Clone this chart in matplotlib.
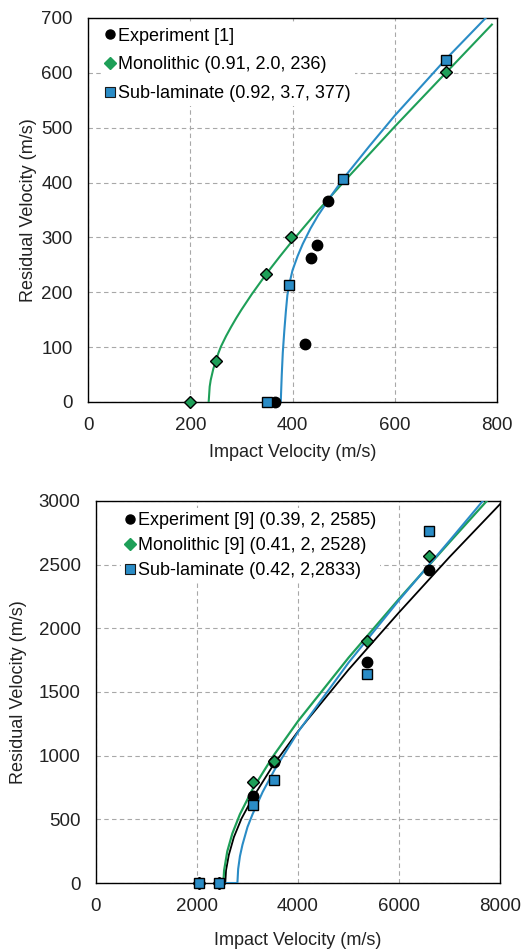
import matplotlib
matplotlib.use('Agg')
import matplotlib.pyplot as plt

plt.rcParams.update({'font.family': ['Liberation Sans', 'DejaVu Sans'], 'font.size': 12})

#top panel: measured points
exp1_vi = [365, 424, 437, 447, 469]
exp1_vr = [0, 105, 262, 287, 366]
mono1_vi = [200, 250, 349, 398, 700]
mono1_vr = [0, 75, 233, 300, 601]
sub1_vi = [350, 393, 498, 700]
sub1_vr = [0, 214, 407, 624]

#top panel: fitted curves
mono1_fit_vi = [236, 238, 240, 245, 250, 255, 260, 270, 280, 290, 300, 320, 350, 375, 400, 450, 500, 600, 700, 790]
mono1_fit_vr = [0, 28, 40, 60, 75, 89, 101, 120, 137, 153, 168, 196, 235, 265, 294, 349, 401, 502, 600, 688]
sub1_fit_vi = [377, 379, 381, 384, 387, 390, 395, 400, 410, 420, 435, 450, 475, 500, 550, 600, 700, 780]
sub1_fit_vr = [0, 50, 90, 130, 165, 195, 220, 240, 266, 288, 316, 340, 375, 408, 466, 522, 625, 702]

#bottom panel: measured points
exp9_vi = [2030, 2430, 3100, 3529, 5363, 6596]
exp9_vr = [0, 0, 680, 950, 1732, 2459]
mono9_vi = [2030, 2430, 3100, 3529, 5363, 6596]
mono9_vr = [0, 0, 790, 955, 1899, 2569]
sub9_vi = [2030, 2430, 3100, 3529, 5363, 6596]
sub9_vr = [0, 0, 609, 811, 1643, 2765]

#bottom panel: fitted curves
exp9_fit_vi = [2450, 2560, 2575, 2630, 2730, 2880, 3100, 3500, 4000, 5000, 6000, 7000, 8000]
exp9_fit_vr = [0, 0, 100, 220, 360, 505, 667, 920, 1191, 1675, 2125, 2560, 2975]
mono9_fit_vi = [2450, 2522, 2537, 2600, 2700, 2850, 3100, 3500, 4000, 5000, 6000, 7000, 7760]
mono9_fit_vr = [0, 0, 100, 249, 389, 540, 736, 992, 1271, 1769, 2231, 2676, 3010]
sub9_fit_vi = [2450, 2800, 2815, 2850, 2900, 3000, 3100, 3300, 3529, 4000, 5000, 6000, 7000, 7680]
sub9_fit_vr = [0, 0, 110, 210, 300, 440, 540, 715, 884, 1186, 1730, 2221, 2688, 3010]

labels_top = ['Experiment [1]', 'Monolithic (0.91, 2.0, 236)', 'Sub-laminate (0.92, 3.7, 377)']
labels_bottom = ['Experiment [9] (0.39, 2, 2585)', 'Monolithic [9] (0.41, 2, 2528)',
                 'Sub-laminate (0.42, 2,2833)']

GREEN = '#1e9f58'
BLUE = '#2a8cc6'


def style_axes(ax, xmax, xstep, ymax, ystep):
    ax.set_xlim(0, xmax)
    ax.set_ylim(0, ymax)
    ax.set_xticks(range(0, xmax + 1, xstep))
    ax.set_yticks(range(0, ymax + 1, ystep))
    ax.tick_params(length=0, pad=11, labelsize=13.5, colors='#222222')
    ax.grid(True, color='#a8a8a8', linestyle=(0, (4, 3)), linewidth=0.8)
    ax.set_axisbelow(True)
    for s in ax.spines.values():
        s.set_color('black')
        s.set_linewidth(1.0)
    ax.set_ylabel('Residual Velocity (m/s)', fontsize=13, color='#222222')


def draw_points(ax, circ, diam, squ, labels):
    ax.plot(*circ, linestyle='', marker='o', ms=7.5, color='black', zorder=4,
            clip_on=False, label=labels[0])
    ax.plot(*diam, linestyle='', marker='D', ms=6.5, mfc=GREEN, mec='black', mew=1.0,
            zorder=5, clip_on=False, label=labels[1])
    ax.plot(*squ, linestyle='', marker='s', ms=7.3, mfc=BLUE, mec='black', mew=1.0,
            zorder=6, clip_on=False, label=labels[2])


def add_legend(ax, spacing, anchor):
    handles = [
        plt.Line2D([], [], linestyle='', marker='o', ms=6.5, color='black'),
        plt.Line2D([], [], linestyle='', marker='D', ms=6, mfc=GREEN, mec=GREEN),
        plt.Line2D([], [], linestyle='', marker='s', ms=7, mfc=BLUE, mec='#1a1a1a', mew=0.8),
    ]
    labels = [h.get_label() for h in ax.get_lines() if not h.get_label().startswith('_')]
    leg = ax.legend(handles, labels, loc='upper left', bbox_to_anchor=anchor,
                    fontsize=13, handlelength=0.6, handletextpad=0.15,
                    labelspacing=spacing, borderpad=0.2, frameon=True,
                    fancybox=False, framealpha=1)
    leg.get_frame().set_edgecolor('none')
    leg.set_zorder(10)


def main():
    fig = plt.figure(figsize=(5.22, 9.51), dpi=100)

    #top panel
    ax1 = fig.add_axes([0.1686, 0.5773, 0.7835, 0.4038])
    ax1.plot(mono1_fit_vi, mono1_fit_vr, color=GREEN, linewidth=1.5, zorder=3)
    ax1.plot(sub1_fit_vi, sub1_fit_vr, color=BLUE, linewidth=1.5, zorder=3)
    draw_points(ax1, (exp1_vi, exp1_vr), (mono1_vi, mono1_vr), (sub1_vi, sub1_vr), labels_top)
    style_axes(ax1, 800, 200, 700, 100)
    ax1.set_xlabel('Impact Velocity (m/s)', fontsize=13, color='#222222', labelpad=7)
    ax1.yaxis.set_label_coords(-0.125, 0.5)
    add_legend(ax1, 0.66, (0.01, 1.008))

    #bottom panel
    ax2 = fig.add_axes([0.1839, 0.0715, 0.774, 0.4017])
    ax2.plot(exp9_fit_vi, exp9_fit_vr, color='black', linewidth=1.3, zorder=3)
    ax2.plot(mono9_fit_vi, mono9_fit_vr, color=GREEN, linewidth=1.6, zorder=3)
    ax2.plot(sub9_fit_vi, sub9_fit_vr, color=BLUE, linewidth=1.5, zorder=3)
    draw_points(ax2, (exp9_vi, exp9_vr), (mono9_vi, mono9_vr), (sub9_vi, sub9_vr), labels_bottom)
    style_axes(ax2, 8000, 2000, 3000, 500)
    ax2.set_xlabel('Impact Velocity (m/s)', fontsize=13, color='#222222', labelpad=12)
    ax2.yaxis.set_label_coords(-0.17, 0.5)
    add_legend(ax2, 0.45, (0.04, 1.004))

    fig.savefig('out.png', dpi=100, facecolor='white')


if __name__ == '__main__':
    main()
